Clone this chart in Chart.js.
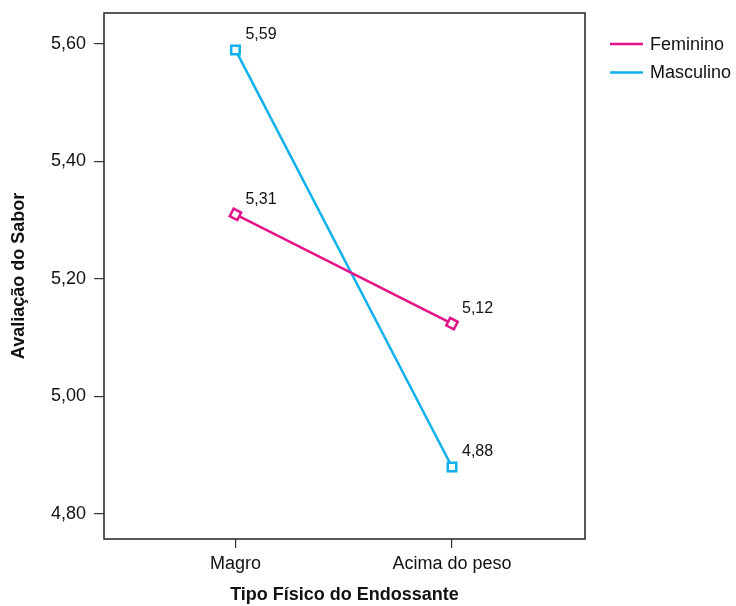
<!DOCTYPE html>
<html>
<head>
<meta charset="utf-8">
<script src="https://cdn.jsdelivr.net/npm/chart.js@4/dist/chart.umd.min.js"></script>
<style>
  html, body { margin: 0; padding: 0; background: #fff; }
  #wrap { width: 736px; height: 606px; }
</style>
</head>
<body>
<div id="wrap"><canvas id="chart"></canvas></div>
<script>
const categories = ['Magro', 'Acima do peso'];
const feminino = [5.31, 5.124];
const masculino = [5.59, 4.88];
const yTicks = [4.8, 5.0, 5.2, 5.4, 5.6];

const PINK = '#E5138A';
const CYAN = '#0FB1EC';
const FONT = "'Liberation Sans', Arial, sans-serif";

const fmt = v => v.toFixed(2).replace('.', ',');
const toPoints = arr => arr.map((v, i) => ({ x: i + 1, y: v }));

// frame around plot + value labels + legend on the right
const decorations = {
    id: 'decorations',
    beforeDatasetsDraw(chart) {
        const { ctx, chartArea: a } = chart;
        ctx.save();
        ctx.strokeStyle = '#222';
        ctx.lineWidth = 1.5;
        ctx.strokeRect(a.left, a.top, a.right - a.left, a.bottom - a.top);
        ctx.restore();
    },
    afterDatasetsDraw(chart) {
        const { ctx } = chart;
        ctx.save();
        ctx.font = '16px ' + FONT;
        ctx.fillStyle = '#111';
        ctx.textAlign = 'left';
        ctx.textBaseline = 'middle';
        chart.data.datasets.forEach((ds, di) => {
            chart.getDatasetMeta(di).data.forEach((pt, i) => {
                ctx.fillText(fmt(ds.data[i].y), pt.x + 10, pt.y - 15);
            });
        });
        // legend
        ctx.font = '18px ' + FONT;
        chart.data.datasets.forEach((ds, di) => {
            const y = 44 + di * 28.5;
            ctx.strokeStyle = ds.borderColor;
            ctx.lineWidth = 2.5;
            ctx.beginPath();
            ctx.moveTo(610, y);
            ctx.lineTo(643, y);
            ctx.stroke();
            ctx.fillStyle = '#111';
            ctx.fillText(ds.label, 650, y + 1);
        });
        ctx.restore();
    }
};

new Chart(document.getElementById('chart'), {
    type: 'line',
    data: {
        datasets: [
            {
                label: 'Feminino',
                data: toPoints(feminino),
                borderColor: PINK,
                backgroundColor: '#fff',
                borderWidth: 2.5,
                pointStyle: 'rect',
                pointRadius: 6,
                pointRotation: 27,
                pointBorderWidth: 2.5,
                pointBorderColor: PINK,
                pointBackgroundColor: '#fff'
            },
            {
                label: 'Masculino',
                data: toPoints(masculino),
                borderColor: CYAN,
                backgroundColor: '#fff',
                borderWidth: 2.5,
                pointStyle: 'rect',
                pointRadius: 6,
                pointRotation: 0,
                pointBorderWidth: 2.5,
                pointBorderColor: CYAN,
                pointBackgroundColor: '#fff'
            }
        ]
    },
    options: {
        responsive: true,
        maintainAspectRatio: false,
        animation: false,
        layout: { padding: { top: 13, right: 151, left: 0, bottom: 0 } },
        plugins: {
            legend: { display: false },
            tooltip: { enabled: false }
        },
        scales: {
            x: {
                type: 'linear',
                min: 0.393,
                max: 2.614,
                afterBuildTicks: s => { s.ticks = [{ value: 1 }, { value: 2 }]; },
                afterFit: s => { s.height = 67; s.paddingLeft = 0; s.paddingRight = 0; },
                border: { display: false },
                grid: { drawOnChartArea: false, drawTicks: true, tickLength: 9, color: '#333', lineWidth: 1.2 },
                ticks: {
                    padding: 5,
                    color: '#111',
                    font: { family: FONT, size: 18 },
                    callback: v => categories[v - 1]
                },
                title: {
                    display: true,
                    text: 'Tipo Físico do Endossante',
                    color: '#111',
                    font: { family: FONT, size: 18, weight: 'bold' },
                    padding: { top: 0, bottom: 0 }
                }
            },
            y: {
                min: 4.7574,
                max: 5.6528,
                afterBuildTicks: s => { s.ticks = yTicks.map(v => ({ value: v })); },
                afterFit: s => { s.width = 104; s.paddingTop = 0; s.paddingBottom = 0; },
                border: { display: false },
                grid: { drawOnChartArea: false, drawTicks: true, tickLength: 10, color: '#333', lineWidth: 1.2 },
                ticks: {
                    padding: 8,
                    color: '#111',
                    font: { family: FONT, size: 18 },
                    callback: v => fmt(v)
                },
                title: {
                    display: true,
                    text: 'Avaliação do Sabor',
                    color: '#111',
                    font: { family: FONT, size: 18, weight: 'bold' },
                    padding: { top: 8, bottom: 0 }
                }
            }
        }
    },
    plugins: [decorations]
});
</script>
</body>
</html>
